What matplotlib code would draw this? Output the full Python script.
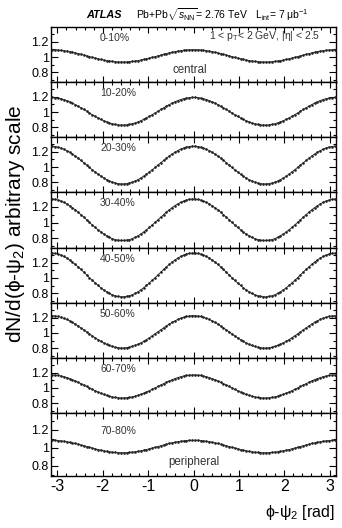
import matplotlib
matplotlib.use("Agg")
import matplotlib.pyplot as plt
import numpy as np
from matplotlib.ticker import FixedLocator, MultipleLocator

plt.rcParams['font.family'] = ['Liberation Sans', 'DejaVu Sans']
plt.rcParams['mathtext.fontset'] = 'custom'
plt.rcParams['mathtext.rm'] = 'Liberation Sans'
plt.rcParams['mathtext.it'] = 'Liberation Sans:italic'
plt.rcParams['mathtext.bf'] = 'Liberation Sans:bold'

# ---------------- data ----------------
n_bins = 100
bin_centers = -np.pi + (np.arange(n_bins) + 0.5) * (2 * np.pi / n_bins)

centrality = ["0-10%", "10-20%", "20-30%", "30-40%", "40-50%", "50-60%", "60-70%", "70-80%"]

dn_0_10 = [
    1.095, 1.094, 1.091, 1.087, 1.083, 1.077, 1.070, 1.062, 1.054, 1.044, 1.035, 1.025, 1.015,
    1.005, 0.995, 0.986, 0.977, 0.968, 0.960, 0.953, 0.948, 0.943, 0.939, 0.936, 0.935,
    0.935, 0.936, 0.939, 0.943, 0.948, 0.953, 0.960, 0.968, 0.977, 0.986, 0.995, 1.005, 1.015,
    1.025, 1.035, 1.044, 1.054, 1.062, 1.070, 1.077, 1.083, 1.087, 1.091, 1.094, 1.095,
    1.095, 1.094, 1.091, 1.087, 1.083, 1.077, 1.070, 1.062, 1.054, 1.044, 1.035, 1.025, 1.015,
    1.005, 0.995, 0.986, 0.977, 0.968, 0.960, 0.953, 0.948, 0.943, 0.939, 0.936, 0.935,
    0.935, 0.936, 0.939, 0.943, 0.948, 0.953, 0.960, 0.968, 0.977, 0.986, 0.995, 1.005, 1.015,
    1.025, 1.035, 1.044, 1.054, 1.062, 1.070, 1.077, 1.083, 1.087, 1.091, 1.094, 1.095]

dn_10_20 = [
    1.190, 1.187, 1.181, 1.173, 1.162, 1.149, 1.133, 1.116, 1.097, 1.076, 1.055, 1.033, 1.010,
    0.987, 0.965, 0.944, 0.923, 0.904, 0.887, 0.871, 0.858, 0.847, 0.839, 0.833, 0.830,
    0.830, 0.833, 0.839, 0.847, 0.858, 0.871, 0.887, 0.904, 0.923, 0.944, 0.965, 0.987, 1.010,
    1.033, 1.055, 1.076, 1.097, 1.116, 1.133, 1.149, 1.162, 1.173, 1.181, 1.187, 1.190,
    1.190, 1.187, 1.181, 1.173, 1.162, 1.149, 1.133, 1.116, 1.097, 1.076, 1.055, 1.033, 1.010,
    0.987, 0.965, 0.944, 0.923, 0.904, 0.887, 0.871, 0.858, 0.847, 0.839, 0.833, 0.830,
    0.830, 0.833, 0.839, 0.847, 0.858, 0.871, 0.887, 0.904, 0.923, 0.944, 0.965, 0.987, 1.010,
    1.033, 1.055, 1.076, 1.097, 1.116, 1.133, 1.149, 1.162, 1.173, 1.181, 1.187, 1.190]

dn_20_30 = [
    1.270, 1.266, 1.258, 1.247, 1.232, 1.214, 1.193, 1.169, 1.143, 1.115, 1.086, 1.056, 1.025,
    0.994, 0.964, 0.935, 0.907, 0.881, 0.857, 0.836, 0.818, 0.803, 0.792, 0.784, 0.780,
    0.780, 0.784, 0.792, 0.803, 0.818, 0.836, 0.857, 0.881, 0.907, 0.935, 0.964, 0.994, 1.025,
    1.056, 1.086, 1.115, 1.143, 1.169, 1.193, 1.214, 1.232, 1.247, 1.258, 1.266, 1.270,
    1.270, 1.266, 1.258, 1.247, 1.232, 1.214, 1.193, 1.169, 1.143, 1.115, 1.086, 1.056, 1.025,
    0.994, 0.964, 0.935, 0.907, 0.881, 0.857, 0.836, 0.818, 0.803, 0.792, 0.784, 0.780,
    0.780, 0.784, 0.792, 0.803, 0.818, 0.836, 0.857, 0.881, 0.907, 0.935, 0.964, 0.994, 1.025,
    1.056, 1.086, 1.115, 1.143, 1.169, 1.193, 1.214, 1.232, 1.247, 1.258, 1.266, 1.270]

dn_30_40 = [
    1.300, 1.295, 1.287, 1.275, 1.259, 1.239, 1.216, 1.191, 1.163, 1.133, 1.101, 1.068, 1.035,
    1.002, 0.969, 0.937, 0.907, 0.879, 0.854, 0.831, 0.811, 0.795, 0.783, 0.775, 0.771,
    0.771, 0.775, 0.783, 0.795, 0.811, 0.831, 0.854, 0.879, 0.907, 0.937, 0.969, 1.002, 1.035,
    1.068, 1.101, 1.133, 1.163, 1.191, 1.216, 1.239, 1.259, 1.275, 1.287, 1.295, 1.300,
    1.300, 1.295, 1.287, 1.275, 1.259, 1.239, 1.216, 1.191, 1.163, 1.133, 1.101, 1.068, 1.035,
    1.002, 0.969, 0.937, 0.907, 0.879, 0.854, 0.831, 0.811, 0.795, 0.783, 0.775, 0.771,
    0.771, 0.775, 0.783, 0.795, 0.811, 0.831, 0.854, 0.879, 0.907, 0.937, 0.969, 1.002, 1.035,
    1.068, 1.101, 1.133, 1.163, 1.191, 1.216, 1.239, 1.259, 1.275, 1.287, 1.295, 1.300]

dn_40_50 = [
    1.324, 1.320, 1.311, 1.298, 1.281, 1.260, 1.235, 1.208, 1.177, 1.145, 1.111, 1.076, 1.040,
    1.004, 0.969, 0.935, 0.903, 0.873, 0.845, 0.820, 0.799, 0.782, 0.769, 0.760, 0.756,
    0.756, 0.760, 0.769, 0.782, 0.799, 0.820, 0.845, 0.873, 0.903, 0.935, 0.969, 1.004, 1.040,
    1.076, 1.111, 1.145, 1.177, 1.208, 1.235, 1.260, 1.281, 1.298, 1.311, 1.320, 1.324,
    1.324, 1.320, 1.311, 1.298, 1.281, 1.260, 1.235, 1.208, 1.177, 1.145, 1.111, 1.076, 1.040,
    1.004, 0.969, 0.935, 0.903, 0.873, 0.845, 0.820, 0.799, 0.782, 0.769, 0.760, 0.756,
    0.756, 0.760, 0.769, 0.782, 0.799, 0.820, 0.845, 0.873, 0.903, 0.935, 0.969, 1.004, 1.040,
    1.076, 1.111, 1.145, 1.177, 1.208, 1.235, 1.260, 1.281, 1.298, 1.311, 1.320, 1.324]

dn_50_60 = [
    1.225, 1.221, 1.215, 1.205, 1.192, 1.177, 1.159, 1.138, 1.116, 1.092, 1.067, 1.041, 1.015,
    0.989, 0.963, 0.938, 0.914, 0.892, 0.871, 0.853, 0.838, 0.825, 0.815, 0.809, 0.805,
    0.805, 0.809, 0.815, 0.825, 0.838, 0.853, 0.871, 0.892, 0.914, 0.938, 0.963, 0.989, 1.015,
    1.041, 1.067, 1.092, 1.116, 1.138, 1.159, 1.177, 1.192, 1.205, 1.215, 1.221, 1.225,
    1.225, 1.221, 1.215, 1.205, 1.192, 1.177, 1.159, 1.138, 1.116, 1.092, 1.067, 1.041, 1.015,
    0.989, 0.963, 0.938, 0.914, 0.892, 0.871, 0.853, 0.838, 0.825, 0.815, 0.809, 0.805,
    0.805, 0.809, 0.815, 0.825, 0.838, 0.853, 0.871, 0.892, 0.914, 0.938, 0.963, 0.989, 1.015,
    1.041, 1.067, 1.092, 1.116, 1.138, 1.159, 1.177, 1.192, 1.205, 1.215, 1.221, 1.225]

dn_60_70 = [
    1.170, 1.167, 1.163, 1.156, 1.147, 1.136, 1.123, 1.108, 1.092, 1.075, 1.057, 1.039, 1.020,
    1.001, 0.983, 0.965, 0.948, 0.932, 0.917, 0.904, 0.893, 0.884, 0.877, 0.873, 0.870,
    0.870, 0.873, 0.877, 0.884, 0.893, 0.904, 0.917, 0.932, 0.948, 0.965, 0.983, 1.001, 1.020,
    1.039, 1.057, 1.075, 1.092, 1.108, 1.123, 1.136, 1.147, 1.156, 1.163, 1.167, 1.170,
    1.170, 1.167, 1.163, 1.156, 1.147, 1.136, 1.123, 1.108, 1.092, 1.075, 1.057, 1.039, 1.020,
    1.001, 0.983, 0.965, 0.948, 0.932, 0.917, 0.904, 0.893, 0.884, 0.877, 0.873, 0.870,
    0.870, 0.873, 0.877, 0.884, 0.893, 0.904, 0.917, 0.932, 0.948, 0.965, 0.983, 1.001, 1.020,
    1.039, 1.057, 1.075, 1.092, 1.108, 1.123, 1.136, 1.147, 1.156, 1.163, 1.167, 1.170]

dn_70_80 = [
    1.085, 1.084, 1.082, 1.078, 1.074, 1.069, 1.063, 1.056, 1.049, 1.041, 1.032, 1.024, 1.015,
    1.006, 0.998, 0.989, 0.981, 0.974, 0.967, 0.961, 0.956, 0.952, 0.948, 0.946, 0.945,
    0.945, 0.946, 0.948, 0.952, 0.956, 0.961, 0.967, 0.974, 0.981, 0.989, 0.998, 1.006, 1.015,
    1.024, 1.032, 1.041, 1.049, 1.056, 1.063, 1.069, 1.074, 1.078, 1.082, 1.084, 1.085,
    1.085, 1.084, 1.082, 1.078, 1.074, 1.069, 1.063, 1.056, 1.049, 1.041, 1.032, 1.024, 1.015,
    1.006, 0.998, 0.989, 0.981, 0.974, 0.967, 0.961, 0.956, 0.952, 0.948, 0.946, 0.945,
    0.945, 0.946, 0.948, 0.952, 0.956, 0.961, 0.967, 0.974, 0.981, 0.989, 0.998, 1.006, 1.015,
    1.024, 1.032, 1.041, 1.049, 1.056, 1.063, 1.069, 1.074, 1.078, 1.082, 1.084, 1.085]

panel_data = [dn_0_10, dn_10_20, dn_20_30, dn_30_40, dn_40_50, dn_50_60, dn_60_70, dn_70_80]

x_ticks = [-3, -2, -1, 0, 1, 2, 3]
y_ticks = [0.8, 1.0, 1.2]
y_tick_labels = ["0.8", "1", "1.2"]

# ---------------- layout ----------------
W, H = 342, 528
fig = plt.figure(figsize=(W / 100, H / 100), dpi=100)
left_px, right_px = 51, 336
tops = [27, 82, 137, 192, 248, 303, 358, 413]
bots = [82, 137, 192, 248, 303, 358, 413, 476]

for i, vals in enumerate(panel_data):
    t, b = tops[i], bots[i]
    ax = fig.add_axes([left_px / W, 1 - b / H, (right_px - left_px) / W, (b - t) / H])
    ax.plot(bin_centers, vals, '-', color='#222222', lw=0.6, zorder=2)
    ax.plot(bin_centers, vals, 'o', color='#222222', ms=1.9, mew=0, zorder=3)
    ax.set_xlim(-np.pi, np.pi)
    last = (i == len(panel_data) - 1)
    ax.set_ylim(0.685 if last else 0.675, 1.39)
    ax.xaxis.set_major_locator(FixedLocator(x_ticks))
    ax.xaxis.set_minor_locator(MultipleLocator(0.2))
    ax.yaxis.set_major_locator(FixedLocator(y_ticks))
    ax.yaxis.set_minor_locator(MultipleLocator(0.1))
    ax.set_yticklabels(y_tick_labels, fontsize=9)
    ax.tick_params(which='both', direction='in', top=True, right=True, width=0.8)
    ax.tick_params(axis='y', which='major', length=5, pad=1.5)
    ax.tick_params(axis='y', which='minor', length=2.5)
    ax.tick_params(axis='x', which='major', length=4)
    ax.tick_params(axis='x', which='minor', length=2)
    for s in ax.spines.values():
        s.set_linewidth(1.0)
    if last:
        ax.set_xticklabels([str(v) for v in x_ticks], fontsize=11.5)
        ax.tick_params(axis='x', pad=2)
        ax.text(0.172, 0.72, centrality[i], transform=ax.transAxes,
                fontsize=7.5, color='#333333', ha='left', va='center')
        ax.text(0.5, 0.227, "peripheral", transform=ax.transAxes,
                fontsize=8.3, color='#333333', ha='center', va='center')
    else:
        ax.set_xticklabels([])
        ax.text(0.172, 0.80, centrality[i], transform=ax.transAxes,
                fontsize=7.5, color='#333333', ha='left', va='center')
    if i == 0:
        ax.text(0.944, 0.836, r"1 < p$_{\mathrm{T}}$< 2 GeV, |η| < 2.5", transform=ax.transAxes,
                fontsize=7.5, color='#333333', ha='right', va='center')
        ax.text(0.486, 0.218, "central", transform=ax.transAxes,
                fontsize=8.3, color='#333333', ha='center', va='center')

fig.text(86 / W, 1 - 15 / H, "ATLAS", fontsize=7.8, fontweight='bold', fontstyle='italic',
         ha='left', va='center')
fig.text(136 / W, 1 - 15 / H,
         r"Pb+Pb$\sqrt{s_{\mathrm{NN}}}$= 2.76 TeV   L$_{\mathrm{int}}$= 7 μb$^{-1}$",
         fontsize=7.5, ha='left', va='center')

fig.text(16 / W, 1 - 224 / H, r"dN/d(ϕ-ψ$_{2}$) arbitrary scale", rotation=90,
         fontsize=15, ha='center', va='center')
fig.text(335 / W, 1 - 513 / H, r"ϕ-ψ$_{2}$ [rad]", fontsize=11.5, ha='right', va='center')

fig.savefig("out.png", dpi=100)
